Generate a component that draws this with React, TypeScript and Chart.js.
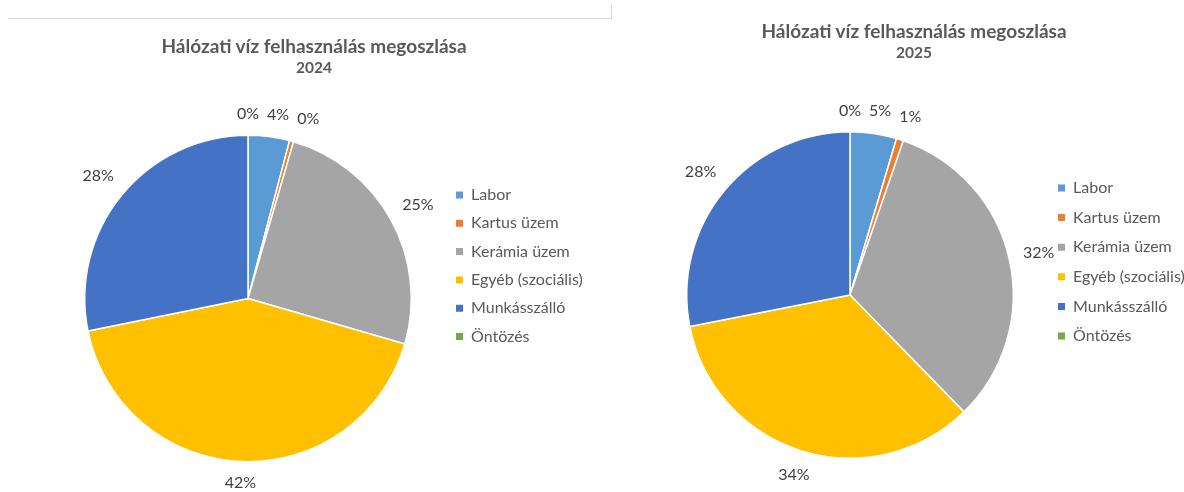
import React, { useEffect, useRef } from "react";
import { Chart, registerables } from "chart.js";

Chart.register(...registerables);

// ---- data ----
const categories = ["Labor", "Kartus üzem", "Kerámia üzem", "Egyéb (szociális)", "Munkásszálló", "Öntözés"];
const values2024 = [4.1, 0.4, 25.0, 42.3, 28.2, 0];
const values2025 = [4.6, 0.7, 32.4, 34.2, 28.1, 0];
const sliceColors = ["#5B9BD5", "#ED7D31", "#A5A5A5", "#FFC000", "#4472C4", "#70AD47"];
const chartTitle = "Hálózati víz felhasználás megoszlása";
const years = ["2024", "2025"];

const FONT = "Lato";
const LEGEND_SIZE = 16;
const LEGEND_BOX = 7;

const outsideLabels = {
  id: "outsideLabels",
  afterDatasetsDraw(chart: any, _args: any, opts: any) {
    const ctx = chart.ctx;
    const meta = chart.getDatasetMeta(0);
    const data = chart.data.datasets[0].data as number[];
    const total = data.reduce((a, b) => a + b, 0);
    ctx.save();
    ctx.font = `${opts.size}px ${FONT}`;
    ctx.fillStyle = opts.color;
    ctx.textAlign = "center";
    ctx.textBaseline = "middle";
    const items: { txt: string; x: number; y: number; w: number; cx: number }[] = [];
    meta.data.forEach((arc: any, i: number) => {
      const { x, y, startAngle, endAngle, outerRadius } = arc.getProps(
        ["x", "y", "startAngle", "endAngle", "outerRadius"],
        true
      );
      const mid = (startAngle + endAngle) / 2;
      const txt = Math.round((data[i] / total) * 100) + "%";
      const w = ctx.measureText(txt).width;
      const c = Math.cos(mid);
      const s = Math.sin(mid);
      const d = outerRadius + opts.gap + (w / 2) * Math.abs(c) + (opts.size / 2) * Math.abs(s);
      items.push({ txt, x: x + c * d, y: y + s * d, w, cx: x });
    });
    // simple collision avoidance: push overlapping labels apart horizontally
    const sorted = [...items].sort((a, b) => a.x - b.x);
    for (let k = 1; k < sorted.length; k++) {
      const p = sorted[k - 1];
      const q = sorted[k];
      if (Math.abs(p.y - q.y) < opts.size) {
        const minDx = p.w / 2 + q.w / 2 + opts.minGap;
        if (q.x - p.x < minDx) {
          if (q.x >= q.cx) q.x = p.x + minDx;
          else p.x = q.x - minDx;
        }
      }
    }
    items.forEach((it) => ctx.fillText(it.txt, it.x, it.y));
    ctx.restore();
  },
};

function legendWidth(padding: number) {
  const c = document.createElement("canvas").getContext("2d") as CanvasRenderingContext2D;
  c.font = `${LEGEND_SIZE}px ${FONT}`;
  const maxText = Math.max(...categories.map((t) => c.measureText(t).width));
  return padding + LEGEND_BOX + LEGEND_SIZE / 2 + maxText + 10;
}

type Cfg = {
  left: number;
  width: number;
  values: number[];
  areaLeft: number; // chart area left (page px)
  areaRight: number; // chart area right (page px)
  areaTop: number;
  areaBottom: number;
  legendPad: number;
  legendTitleTop: number;
};

function PieChart({ cfg }: { cfg: Cfg }) {
  const ref = useRef<HTMLCanvasElement>(null);
  useEffect(() => {
    const lw = legendWidth(cfg.legendPad);
    const padLeft = cfg.areaLeft - cfg.left;
    const padRight = cfg.width - lw - (cfg.areaRight - cfg.left);
    const chart = new Chart(ref.current as HTMLCanvasElement, {
      type: "pie",
      data: {
        labels: categories,
        datasets: [
          {
            data: cfg.values,
            backgroundColor: sliceColors,
            borderColor: "#ffffff",
            borderWidth: 1.5,
          },
        ],
      },
      plugins: [outsideLabels],
      options: {
        animation: false,
        responsive: true,
        maintainAspectRatio: false,
        layout: {
          padding: { left: padLeft, right: padRight, top: cfg.areaTop, bottom: 492 - cfg.areaBottom },
        },
        plugins: {
          tooltip: { enabled: false },
          title: { display: false },
          legend: {
            position: "right",
            align: "start",
            fullSize: false,
            title: {
              display: true,
              text: " ",
              font: { family: FONT, size: 10 },
              padding: { top: cfg.legendTitleTop, bottom: 0 },
            },
            labels: {
              boxWidth: LEGEND_BOX,
              boxHeight: LEGEND_BOX,
              padding: cfg.legendPad,
              color: "#595959",
              font: { family: FONT, size: LEGEND_SIZE },
              generateLabels: (ch: any) =>
                (Chart as any).overrides.pie.plugins.legend.labels
                  .generateLabels(ch)
                  .map((l: any) => ({ ...l, lineWidth: 0 })),
            },
          },
          outsideLabels: { size: 16, color: "#404040", gap: 13, minGap: 8 },
        } as any,
      },
    } as any);
    return () => chart.destroy();
  }, []);
  return (
    <div style={{ position: "absolute", left: cfg.left, top: 0, width: cfg.width, height: 492 }}>
      <canvas ref={ref} />
    </div>
  );
}

function Title({ cx, y, year }: { cx: number; y: number; year: string }) {
  const common: React.CSSProperties = {
    position: "absolute",
    left: cx - 250,
    width: 500,
    textAlign: "center",
    fontFamily: FONT,
    fontWeight: "bold",
    color: "#595959",
    whiteSpace: "nowrap",
    lineHeight: 1,
  };
  return (
    <>
      <div style={{ ...common, top: y - 9.5, fontSize: 19 }}>{chartTitle}</div>
      <div style={{ ...common, top: y + 15, fontSize: 15.5 }}>{year}</div>
    </>
  );
}

const cfg2024: Cfg = {
  left: 8,
  width: 612,
  values: values2024,
  areaLeft: 52.3,
  areaRight: 443.7,
  areaTop: 134.5,
  areaBottom: 462.5,
  legendPad: 12.3,
  legendTitleTop: 28.2,
};

const cfg2025: Cfg = {
  left: 620,
  width: 600,
  values: values2025,
  areaLeft: 655.6,
  areaRight: 1044.4,
  areaTop: 131,
  areaBottom: 459,
  legendPad: 13.6,
  legendTitleTop: 23.4,
};

export default function App() {
  return (
    <div style={{ position: "fixed", inset: 0, overflow: "hidden", background: "#ffffff" }}>
      <div style={{ position: "absolute", left: 8, top: 18, width: 604, height: 1, background: "#d9d9d9" }} />
      <div style={{ position: "absolute", left: 611, top: 4, width: 1, height: 15, background: "#d9d9d9" }} />
      <PieChart cfg={cfg2024} />
      <PieChart cfg={cfg2025} />
      <Title cx={314} y={45} year={years[0]} />
      <Title cx={914} y={30} year={years[1]} />
    </div>
  );
}
